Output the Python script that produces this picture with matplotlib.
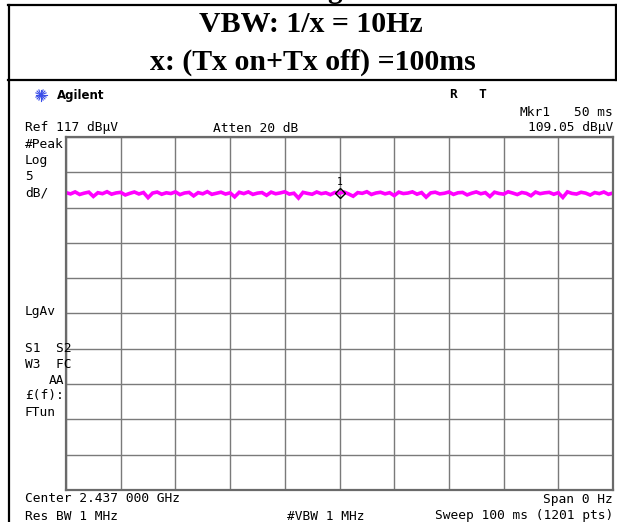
import numpy as np
import matplotlib
matplotlib.use('Agg')
import matplotlib.pyplot as plt
from matplotlib.lines import Line2D

W, H = 617, 522

# sweep settings
ref_level = 117.0
db_per_div = 5.0
sweep_ms = 100.0
marker_ms = 50.0
marker_val = 109.05

# trace readings (dBuV) across the 100 ms sweep
trace = [
    109.12, 108.94, 109.22, 108.86, 109.05, 109.19, 108.58, 109.11, 108.97, 109.25, 108.90, 109.08,
    109.16, 108.79, 109.02, 109.21, 108.93, 109.14, 108.41, 109.06, 109.20, 108.89, 109.10, 108.99,
    109.23, 108.84, 109.07, 109.15, 108.66, 109.12, 108.95, 109.26, 108.88, 109.03, 109.18, 108.92,
    109.09, 108.52, 109.17, 108.98, 109.22, 108.87, 109.05, 109.13, 108.74, 109.19, 108.96, 109.08,
    109.24, 108.91, 109.04, 108.35, 109.16, 109.01, 108.89, 109.21, 108.97, 109.10, 108.83, 109.14,
    109.05, 109.20, 108.93, 108.61, 109.12, 109.02, 109.25, 108.86, 109.07, 109.17, 108.95, 109.11,
    108.70, 109.19, 108.99, 109.06, 109.23, 108.90, 109.13, 108.48, 109.08, 109.18, 108.94, 109.03,
    109.21, 108.87, 109.10, 109.15, 108.80, 109.04, 109.22, 108.96, 109.12, 108.57, 109.18, 109.00,
    108.91, 109.24, 109.06, 108.85, 109.14, 109.02, 108.68, 109.20, 108.97, 109.09, 109.16, 108.89,
    109.11, 108.44, 109.23, 109.01, 108.92, 109.17, 109.05, 108.78, 109.13, 108.98, 109.21, 108.88, 109.07,
]
t = np.linspace(0, sweep_ms, len(trace))


def fx(x):
    return x / W


def fy(y):
    return 1 - y / H


fig = plt.figure(figsize=(W / 100, H / 100), dpi=100)
fig.patch.set_facecolor('white')

# frame around the page
for x0, y0, x1, y1, lw in [(8.5, 5, 8.5, 522, 1.6), (8, 5, 617, 5, 1.6),
                            (8, 80, 617, 80, 1.6), (615.5, 5, 615.5, 80, 1.6)]:
    fig.add_artist(Line2D([fx(x0), fx(x1)], [fy(y0), fy(y1)], color='black', lw=lw))

serif = dict(family='Liberation Serif', weight='bold', color='black')
fig.text(fx(334), fy(-9), 'g', ha='center', va='center', fontsize=21, **serif)
fig.text(fx(311), fy(25), 'VBW: 1/x = 10Hz', ha='center', va='center', fontsize=21.5, **serif)
fig.text(fx(313), fy(62), 'x: (Tx on+Tx off) =100ms', ha='center', va='center', fontsize=21.5, **serif)

# analyzer screen
ax = fig.add_axes([fx(66), fy(490), fx(613) - fx(66), fy(137) - fy(490)])
ax.set_xlim(0, sweep_ms)
ax.set_ylim(ref_level - 10 * db_per_div, ref_level)
ax.set_xticks(np.linspace(0, sweep_ms, 11))
ax.set_yticks(np.arange(ref_level - 10 * db_per_div, ref_level + 0.1, db_per_div))
ax.grid(True, color='#7a7a7a', lw=1.0)
ax.tick_params(length=0, labelbottom=False, labelleft=False)
for s in ax.spines.values():
    s.set_color('#6a6a6a')
    s.set_linewidth(1.6)

ax.plot(t, trace, color='#ff00ff', lw=2.6, solid_joinstyle='miter')
ax.plot([marker_ms], [marker_val], marker='D', ms=5, mfc='none', mec='black', mew=1.0)
ax.text(marker_ms, marker_val + 1.6, '1', ha='center', va='center', fontsize=7,
        family='DejaVu Sans Mono')

mono = dict(family='DejaVu Sans Mono', fontsize=9.3, color='black', va='center')

# Agilent spark
cx, cy = 41, 95
for a in np.linspace(0, np.pi, 8, endpoint=False):
    dx, dy = 5.5 * np.cos(a), 5.5 * np.sin(a)
    fig.add_artist(Line2D([fx(cx - dx), fx(cx + dx)], [fy(cy - dy), fy(cy + dy)],
                          color='#3a4ee8', lw=0.8))
fig.text(fx(57), fy(95), 'Agilent', family='DejaVu Sans', weight='bold', fontsize=8.5,
         va='center', color='black')
fig.text(fx(449), fy(94), 'R', ha='left', weight='bold', **mono)
fig.text(fx(478), fy(94), 'T', ha='left', weight='bold', **mono)

fig.text(fx(519), fy(112), 'Mkr1', ha='left', **mono)
fig.text(fx(613), fy(112), '50 ms', ha='right', **mono)
fig.text(fx(613), fy(128), '109.05 dBμV', ha='right', **mono)
fig.text(fx(25), fy(128), 'Ref 117 dBμV', ha='left', **mono)
fig.text(fx(213), fy(128), 'Atten 20 dB', ha='left', **mono)

for label, y in [('#Peak', 144), ('Log', 161), ('5', 177), ('dB/', 193),
                 ('LgAv', 312), ('S1  S2', 348), ('W3  FC', 364), ('£(f):', 396), ('FTun', 413)]:
    fig.text(fx(25), fy(y), label, ha='left', **mono)
fig.text(fx(64), fy(380), 'AA', ha='right', **mono)

fig.text(fx(25), fy(499), 'Center 2.437 000 GHz', ha='left', **mono)
fig.text(fx(613), fy(499), 'Span 0 Hz', ha='right', **mono)
fig.text(fx(25), fy(516), 'Res BW 1 MHz', ha='left', **mono)
fig.text(fx(287), fy(516), '#VBW 1 MHz', ha='left', **mono)
fig.text(fx(613), fy(516), 'Sweep 100 ms (1201 pts)', ha='right', **mono)

fig.savefig('out.png', dpi=100)
